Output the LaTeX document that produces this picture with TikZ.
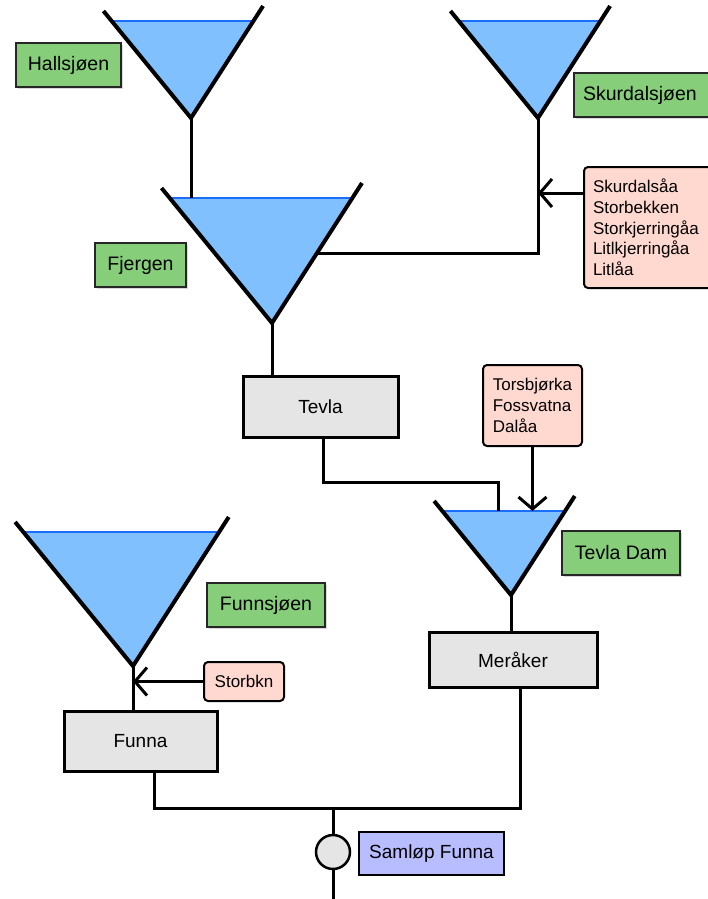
\documentclass[tikz,border=0pt]{standalone}
\usepackage{fontspec}
\setmainfont{Liberation Sans}
\usetikzlibrary{arrows.meta,shadows}

\definecolor{lakeblue}{RGB}{128,192,255}
\definecolor{surface}{RGB}{25,110,250}
\definecolor{labelgreen}{RGB}{134,206,122}
\definecolor{plantgray}{RGB}{229,229,229}
\definecolor{inflowpink}{RGB}{255,217,207}
\definecolor{junctionblue}{RGB}{184,189,255}

\tikzset{
  flow/.style={line width=3pt},
  inflow/.style={line width=3pt, -{Straight Barb[length=12pt,width=28pt]}},
  rim/.style={line width=4pt},
  name label/.style={draw=black!85, line width=2pt, fill=labelgreen,
    font=\fontsize{19.5}{23}\selectfont, minimum height=44pt, inner xsep=9pt,
    drop shadow={shadow xshift=1.5pt, shadow yshift=-2pt, opacity=0.3}},
  plant/.style={draw, line width=3pt, fill=plantgray, font=\fontsize{19}{23}\selectfont},
  creeks/.style={draw, line width=2pt, rounded corners=4pt, fill=inflowpink,
    align=left, inner xsep=9pt, font=\fontsize{17}{20.7}\selectfont},
  pics/reservoir/.style={code={
    \fill[lakeblue] (-0.82*#1,-#1) -- (0,0) -- (0.64*#1,-#1) -- cycle;
    \draw[surface, line width=1.5pt] (-0.82*#1,-#1) -- (0.64*#1,-#1);
    \draw[rim] (-0.82*#1-8,-#1-10) -- (0,0) -- (0.64*#1+10,-#1-15);
    \coordinate (-apex) at (0,0);
    \coordinate (-level) at (0,-#1);
  }}
}

\begin{document}
\begin{tikzpicture}[x=1pt, y=-1pt]

\useasboundingbox (0,0) rectangle (707,899);

% lakes
\pic (hall) at (191,118) {reservoir=97};
\pic (skur) at (538,118) {reservoir=97};
\pic (fjer) at (272,323) {reservoir=125};
\pic (tevdam) at (511,595) {reservoir=84};
\pic (funn) at (133,666) {reservoir=134};

\node[name label, minimum width=105pt] (hallname) at (68.5,65) {Hallsjøen};
\node[name label, minimum width=91pt] (fjername) at (140.5,265) {Fjergen};
\node[name label, anchor=west, text width=130pt, align=left] (skurname) at (573,95) {Skurdalsjøen};
\node[name label, minimum width=118pt] (tevdamname) at (621,553) {Tevla Dam};
\node[name label, minimum width=118pt] (funnname) at (266,605) {Funnsjøen};

% power plants
\node[plant, minimum width=155pt, minimum height=61pt] (tevla) at (320.5,406.5) {Tevla};
\node[plant, minimum width=168pt, minimum height=55pt] (meraker) at (513,659.5) {Meråker};
\node[plant, minimum width=153pt, minimum height=60pt] (funna) at (140.5,741) {Funna};

% creek intakes
\node[creeks, anchor=north west, text width=125pt, minimum height=121pt] (skurcreeks) at (583,166)
  {Skurdalsåa\\Storbekken\\Storkjerringåa\\Litlkjerringåa\\Litlåa};
\node[creeks, minimum width=99pt, minimum height=81pt] (torscreeks) at (532.5,405.5)
  {Torsbjørka\\Fossvatna\\Dalåa};
\node[creeks, minimum width=80pt, minimum height=39pt] (storbkn) at (244,681.5) {Storbkn};

\node[circle, draw, line width=2.5pt, fill=plantgray, minimum size=34pt, inner sep=0pt] (samlop) at (333,852) {};
\node[draw, line width=2pt, fill=junctionblue, font=\fontsize{19}{23}\selectfont,
  minimum width=145pt, minimum height=43pt] (samlopname) at (431.5,853.5) {Samløp Funna};

\coordinate (fjerside) at (317,253);
\coordinate (skurjoin) at (538,193);
\coordinate (tevlabend) at (498,482);
\coordinate (confluence) at (333,808);
\coordinate (outlet) at (333,899);

\draw[flow] (hall-apex) -- (hall-apex |- fjer-level);
\draw[flow] (skur-apex) |- (fjerside);
\draw[inflow] (skurcreeks.west |- skurjoin) -- (skurjoin);
\draw[flow] (fjer-apex) -- (fjer-apex |- tevla.north);
\draw[flow] ([xshift=3pt]tevla.south) |- (tevlabend) -- (tevlabend |- tevdam-level);
\draw[inflow] (torscreeks.south) -- (torscreeks.south |- tevdam-level);
\draw[flow] (tevdam-apex) -- (tevdam-apex |- meraker.north);
\draw[flow] (funn-apex) -- (funn-apex |- funna.north);
\draw[inflow] (storbkn.west) -- (funn-apex |- storbkn.west);
\draw[flow] ([xshift=14pt]funna.south) |- (confluence) -| ([xshift=7pt]meraker.south);
\draw[flow] (confluence) -- (samlop.north);
\draw[flow] (samlop.south) -- (outlet);

\end{tikzpicture}
\end{document}
